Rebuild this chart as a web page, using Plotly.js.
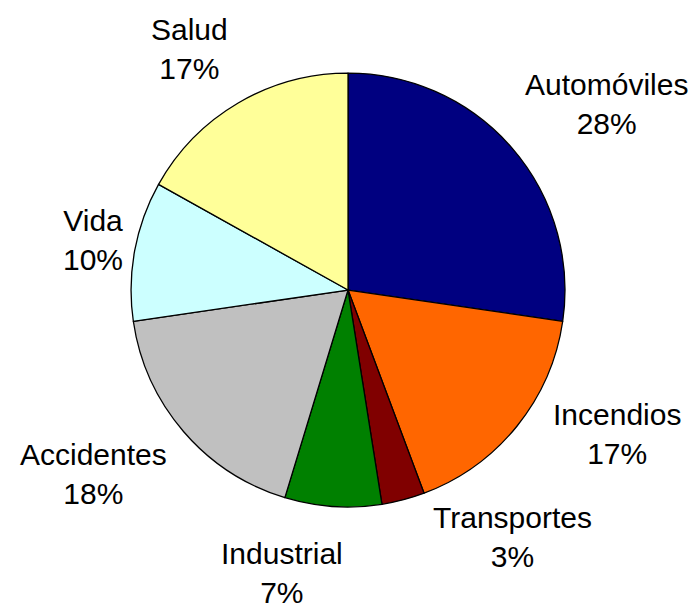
<!DOCTYPE html>
<html>
<head>
<meta charset="utf-8">
<script src="https://cdn.plot.ly/plotly-3.0.1.min.js"></script>
<style>html,body{margin:0;padding:0;background:#fff;}#chart{width:695px;height:609px;}</style>
</head>
<body>
<div id="chart"></div>
<script>
// Categories in drawing order (clockwise from 12 o'clock)
const categories = ["Automóviles", "Incendios", "Transportes", "Industrial", "Accidentes", "Vida", "Salud"];
// Slice sizes as drawn in the reference (share of total, %)
const shares = [27.3, 17.0, 3.2, 7.2, 18.0, 10.4, 16.9];
// Percentages printed on the labels
const percentLabels = [28, 17, 3, 7, 18, 10, 17];
const colors = ["#000080", "#FF6600", "#800000", "#008000", "#C0C0C0", "#CCFFFF", "#FFFF99"];

// Label placement (paper fractions, layout only)
const labelX = [0.872, 0.888, 0.737, 0.406, 0.135, 0.134, 0.272];
const labelY = [0.829, 0.287, 0.118, 0.059, 0.222, 0.606, 0.920];

const trace = {
  type: "pie",
  labels: categories,
  values: shares,
  sort: false,
  direction: "clockwise",
  rotation: 0,
  marker: {colors: colors, line: {color: "#000000", width: 1.3}},
  textinfo: "none",
  hoverinfo: "none",
  showlegend: false,
  automargin: false,
  domain: {x: [0.1885, 0.813], y: [0.1675, 0.880]}
};

const annotations = categories.map((c, i) => ({
  xref: "paper", yref: "paper",
  x: labelX[i], y: labelY[i],
  xanchor: "center", yanchor: "middle",
  align: "center",
  showarrow: false,
  text: c + "<br>" + percentLabels[i] + "%",
  font: {family: "Liberation Sans, Arial, sans-serif", size: 30, color: "#000000"}
}));

const layout = {
  width: 695,
  height: 609,
  margin: {l: 0, r: 0, t: 0, b: 0},
  paper_bgcolor: "#ffffff",
  plot_bgcolor: "#ffffff",
  showlegend: false,
  annotations: annotations
};

Plotly.newPlot("chart", [trace], layout, {displayModeBar: false, staticPlot: true});
</script>
</body>
</html>
